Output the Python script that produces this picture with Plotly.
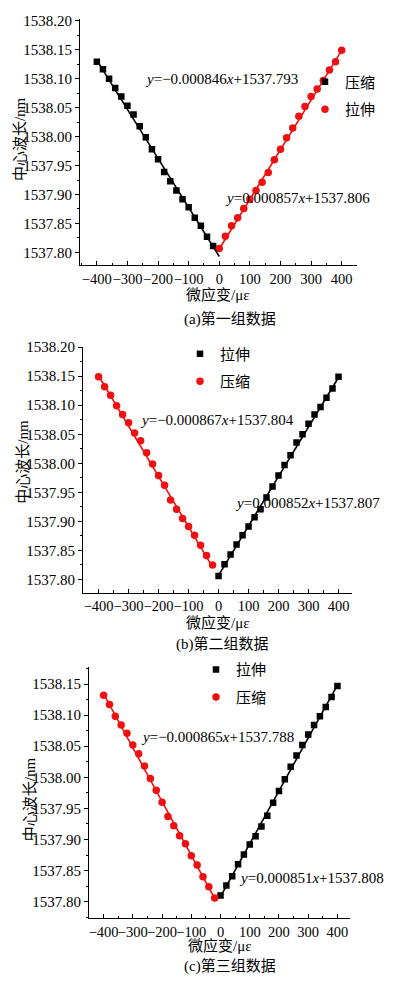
import plotly.graph_objects as go

PAGE_W, PAGE_H = 394, 984
OFF = 8  # default body margin of the page that write_html produces
W, H = PAGE_W - 2 * OFF, PAGE_H - 2 * OFF
FONT = "Liberation Serif, Times New Roman, Noto Sans CJK SC, serif"

# ---------------- data ----------------
comp_x_a = [-400, -380, -360, -340, -320, -300, -280, -260, -240, -220,
            -200, -180, -160, -140, -120, -100, -80, -60, -40, -20]
tens_x = [0, 20, 40, 60, 80, 100, 120, 140, 160, 180, 200,
          220, 240, 260, 280, 300, 320, 340, 360, 380, 400]

a_comp_y = [1538.129, 1538.116, 1538.100, 1538.084, 1538.069, 1538.053, 1538.038,
            1538.018, 1537.999, 1537.978, 1537.961, 1537.939, 1537.923, 1537.907,
            1537.892, 1537.878, 1537.860, 1537.846, 1537.827, 1537.811]
a_tens_y = [1537.807, 1537.828, 1537.846, 1537.860, 1537.876, 1537.892, 1537.907,
            1537.921, 1537.938, 1537.960, 1537.978, 1537.998, 1538.015, 1538.035,
            1538.052, 1538.069, 1538.082, 1538.097, 1538.115, 1538.129, 1538.149]

b_comp_y = [1538.149, 1538.132, 1538.117, 1538.099, 1538.084, 1538.070, 1538.052,
            1538.039, 1538.018, 1537.999, 1537.979, 1537.962, 1537.937, 1537.921,
            1537.905, 1537.891, 1537.876, 1537.859, 1537.841, 1537.825]
b_tens_y = [1537.806, 1537.826, 1537.843, 1537.860, 1537.876, 1537.891, 1537.907,
            1537.921, 1537.941, 1537.960, 1537.979, 1537.997, 1538.014, 1538.036,
            1538.050, 1538.068, 1538.084, 1538.097, 1538.113, 1538.129, 1538.149]

c_comp_y = [1538.132, 1538.117, 1538.098, 1538.084, 1538.071, 1538.052, 1538.038,
            1538.018, 1537.998, 1537.979, 1537.960, 1537.937, 1537.922, 1537.906,
            1537.893, 1537.874, 1537.859, 1537.840, 1537.824, 1537.806]
c_tens_y = [1537.810, 1537.826, 1537.841, 1537.860, 1537.876, 1537.892, 1537.905,
            1537.921, 1537.938, 1537.959, 1537.978, 1537.997, 1538.017, 1538.035,
            1538.052, 1538.069, 1538.084, 1538.098, 1538.113, 1538.129, 1538.147]

# linear fits (slope, intercept) as printed on the chart
fit_comp = [(-0.000846, 1537.793), (-0.000867, 1537.804), (-0.000865, 1537.788)]
fit_tens = [(0.000857, 1537.806), (0.000852, 1537.807), (0.000851, 1537.808)]
fit_comp_span = [(-400, 0), (-400, -20), (-400, -20)]
fit_tens_span = [(0, 400), (0, 400), (0, 400)]

eq_comp = ["<i>y</i>=−0.000846<i>x</i>+1537.793",
           "<i>y</i>=−0.000867<i>x</i>+1537.804",
           "<i>y</i>=−0.000865<i>x</i>+1537.788"]
eq_tens = ["<i>y</i>=0.000857<i>x</i>+1537.806",
           "<i>y</i>=0.000852<i>x</i>+1537.807",
           "<i>y</i>=0.000851<i>x</i>+1537.808"]
captions = ["(a)第一组数据", "(b)第二组数据", "(c)第三组数据"]
label_comp = "压缩"
label_tens = "拉伸"
x_title = "微应变/με"
y_title = "中心波长/nm"
x_tickvals = [-400, -300, -200, -100, 0, 100, 200, 300, 400]
x_ticktext = ["−400", "−300", "−200", "−100", "0", "100", "200", "300", "400"]

# ---------------- layout geometry (page pixels) ----------------
BLACK = "#000000"
RED = "#ee1111"


def px(x):
    return (x - OFF) / W


def py(y):
    return 1 - (y - OFF) / H


panels = [
    dict(xd=(80, 357), yd=(12, 260), xr=(-455, 450), yr=(1537.778, 1538.203),
         comp_color=BLACK, comp_sym="square", tens_color=RED, tens_sym="circle",
         first="comp", leg=(305, 89), eq1=(143, 72), eq2=(223, 192),
         xt=(218, 290), yt=(20, 133), cap=(230, 314)),
    dict(xd=(83, 352), yd=(342, 590), xr=(-452, 445), yr=(1537.777, 1538.201),
         comp_color=RED, comp_sym="circle", tens_color=BLACK, tens_sym="square",
         first="tens", leg=(180, 363), eq1=(138, 416), eq2=(233, 500),
         xt=(218, 620), yt=(23, 458), cap=(222, 642)),
    dict(xd=(89, 350), yd=(665, 918), xr=(-450, 443), yr=(1537.773, 1538.177),
         comp_color=RED, comp_sym="circle", tens_color=BLACK, tens_sym="square",
         first="tens", leg=(196, 681), eq1=(139, 735), eq2=(237, 877),
         xt=(220, 945), yt=(30, 798), cap=(230, 966)),
]
comp_ys = [a_comp_y, b_comp_y, c_comp_y]
tens_ys = [a_tens_y, b_tens_y, c_tens_y]

fig = go.Figure()
annotations = []
layout = {}

for i, p in enumerate(panels):
    n = "" if i == 0 else str(i + 1)
    xa, ya = "x" + n, "y" + n
    leg = "legend" + n

    def marker_trace(name, xs, ys, color, sym, grp):
        return go.Scatter(x=xs, y=ys, mode="markers", name=name,
                          marker=dict(color=color, symbol=sym,
                                      size=6.5 if sym == "square" else 7.5,
                                      line=dict(width=0)),
                          xaxis=xa, yaxis=ya, legend=leg, legendgroup=f"{i}{grp}",
                          showlegend=True)

    tc = marker_trace(label_comp, comp_x_a, comp_ys[i], p["comp_color"], p["comp_sym"], "c")
    tt = marker_trace(label_tens, tens_x, tens_ys[i], p["tens_color"], p["tens_sym"], "t")
    order = [tc, tt] if p["first"] == "comp" else [tt, tc]
    for t in order:
        fig.add_trace(t)

    # fit lines
    for (m, b), (x0, x1), col in ((fit_comp[i], fit_comp_span[i], p["comp_color"]),
                                   (fit_tens[i], fit_tens_span[i], p["tens_color"])):
        fig.add_trace(go.Scatter(x=[x0, x1], y=[m * x0 + b, m * x1 + b], mode="lines",
                                 line=dict(color=col, width=1.6), showlegend=False,
                                 hoverinfo="skip", xaxis=xa, yaxis=ya))

    layout["xaxis" + n] = dict(
        domain=[px(p["xd"][0]), px(p["xd"][1])], range=list(p["xr"]), anchor=ya,
        showline=True, linecolor=BLACK, linewidth=1, showgrid=False, zeroline=False,
        tickmode="array", tickvals=x_tickvals, ticktext=x_ticktext,
        ticks="inside", ticklen=4, tickwidth=1, tickcolor=BLACK, tickangle=0,
        minor=dict(dtick=50, tick0=0, ticks="inside", ticklen=2.5, tickcolor=BLACK, showgrid=False),
        tickfont=dict(family=FONT, size=14.5, color=BLACK), fixedrange=True)
    layout["yaxis" + n] = dict(
        domain=[py(p["yd"][1]), py(p["yd"][0])], range=list(p["yr"]), anchor=xa,
        showline=True, linecolor=BLACK, linewidth=1, showgrid=False, zeroline=False,
        tick0=1537.80, dtick=0.05, tickformat=".2f",
        ticks="outside", ticklen=4, tickwidth=1, tickcolor=BLACK,
        minor=dict(dtick=0.025, tick0=1537.80, ticks="outside", ticklen=2.5, tickcolor=BLACK,
                   showgrid=False),
        tickfont=dict(family=FONT, size=15, color=BLACK), fixedrange=True)
    layout[leg] = dict(x=px(p["leg"][0]), y=py(p["leg"][1]), xanchor="left", yanchor="middle",
                       bgcolor="rgba(0,0,0,0)", borderwidth=0, tracegroupgap=5,
                       itemwidth=30, font=dict(family=FONT, size=15, color=BLACK))

    tfont = dict(family=FONT, size=15, color=BLACK)
    annotations += [
        dict(text=eq_comp[i], x=px(p["eq1"][0]), y=py(p["eq1"][1]), xref="paper", yref="paper",
             xanchor="left", yanchor="middle", showarrow=False, font=tfont),
        dict(text=eq_tens[i], x=px(p["eq2"][0]), y=py(p["eq2"][1]), xref="paper", yref="paper",
             xanchor="left", yanchor="middle", showarrow=False, font=tfont),
        dict(text=x_title, x=px(p["xt"][0]), y=py(p["xt"][1]), xref="paper", yref="paper",
             xanchor="center", yanchor="middle", showarrow=False, font=tfont),
        dict(text=y_title, x=px(p["yt"][0]), y=py(p["yt"][1]), xref="paper", yref="paper",
             xanchor="center", yanchor="middle", showarrow=False, textangle=-90, font=tfont),
        dict(text=captions[i], x=px(p["cap"][0]), y=py(p["cap"][1]), xref="paper", yref="paper",
             xanchor="center", yanchor="middle", showarrow=False, font=tfont),
    ]

fig.update_layout(
    width=W, height=H, margin=dict(l=0, r=0, t=0, b=0),
    paper_bgcolor="white", plot_bgcolor="white",
    annotations=annotations, showlegend=True, hovermode=False,
    **layout)

fig.write_html("out.html", config={"displayModeBar": False})
